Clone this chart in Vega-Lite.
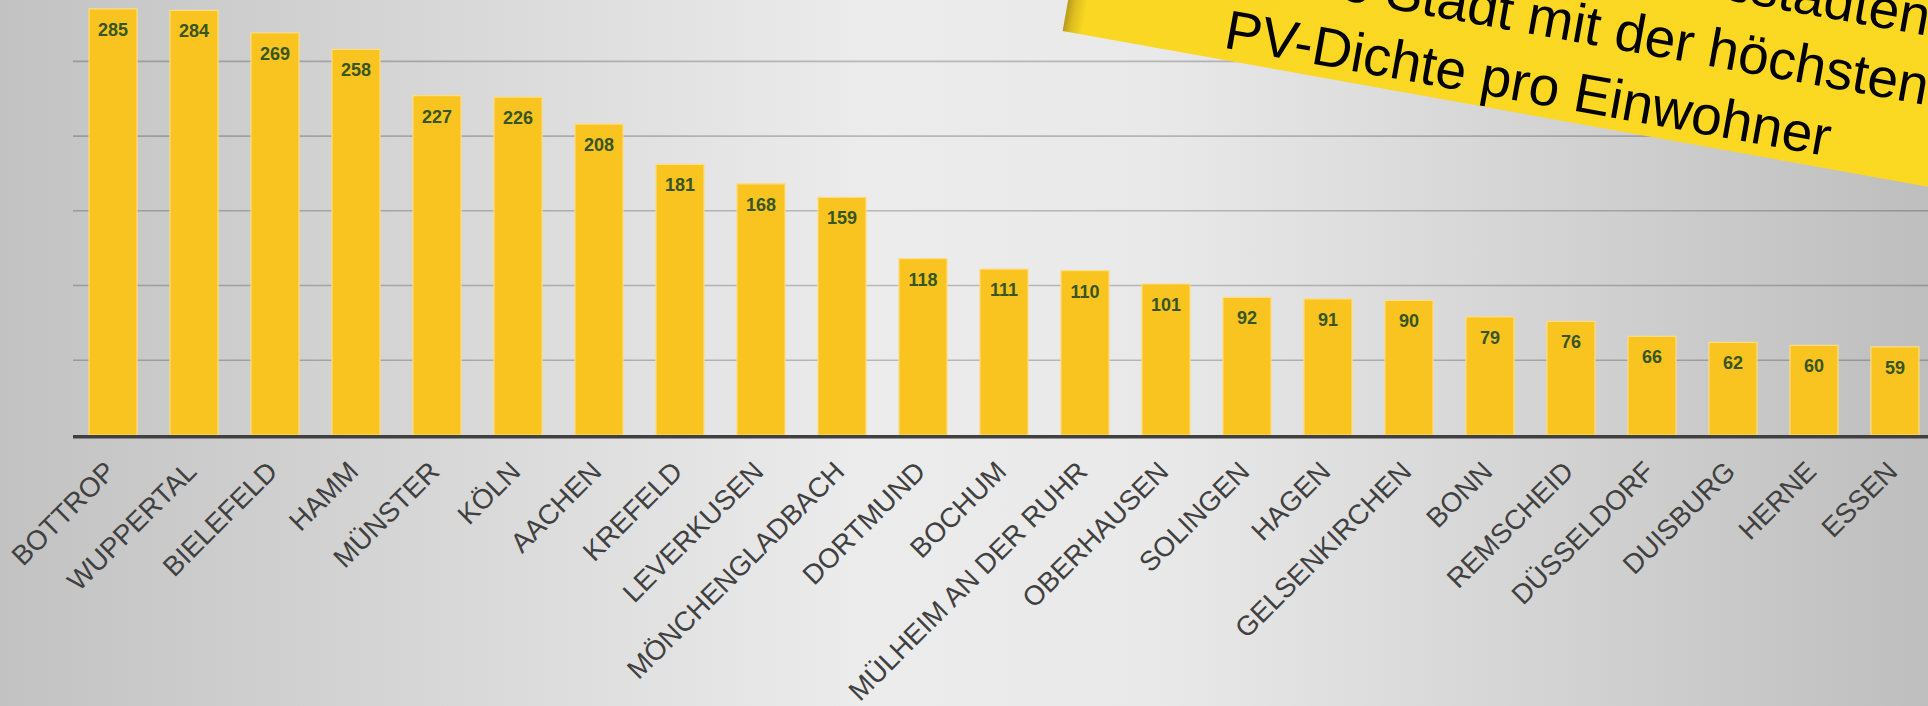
{
  "$schema": "https://vega.github.io/schema/vega-lite/v6.json",
  "width": 1928,
  "height": 706,
  "autosize": {"type": "none"},
  "padding": 0,
  "background": "#d6d6d6",
  "view": {
    "stroke": null,
    "fill": {
      "gradient": "linear", "x1": 0, "y1": 0, "x2": 1, "y2": 0,
      "stops": [
        {"offset": 0, "color": "#c2c2c2"},
        {"offset": 0.45, "color": "#ececec"},
        {"offset": 0.6, "color": "#e9e9e9"},
        {"offset": 1, "color": "#bebebe"}
      ]
    }
  },
  "datasets": {
    "cities": [
      {"city": "BOTTROP", "value": 285},
      {"city": "WUPPERTAL", "value": 284},
      {"city": "BIELEFELD", "value": 269},
      {"city": "HAMM", "value": 258},
      {"city": "MÜNSTER", "value": 227},
      {"city": "KÖLN", "value": 226},
      {"city": "AACHEN", "value": 208},
      {"city": "KREFELD", "value": 181},
      {"city": "LEVERKUSEN", "value": 168},
      {"city": "MÖNCHENGLADBACH", "value": 159},
      {"city": "DORTMUND", "value": 118},
      {"city": "BOCHUM", "value": 111},
      {"city": "MÜLHEIM AN DER RUHR", "value": 110},
      {"city": "OBERHAUSEN", "value": 101},
      {"city": "SOLINGEN", "value": 92},
      {"city": "HAGEN", "value": 91},
      {"city": "GELSENKIRCHEN", "value": 90},
      {"city": "BONN", "value": 79},
      {"city": "REMSCHEID", "value": 76},
      {"city": "DÜSSELDORF", "value": 66},
      {"city": "DUISBURG", "value": 62},
      {"city": "HERNE", "value": 60},
      {"city": "ESSEN", "value": 59}
    ],
    "grid": [{"v": 50}, {"v": 100}, {"v": 150}, {"v": 200}, {"v": 250}]
  },
  "data": {"name": "cities"},
  "encoding": {
    "x": {
      "field": "city", "type": "nominal", "sort": null, "axis": null,
      "scale": {
        "domain": ["BOTTROP", "WUPPERTAL", "BIELEFELD", "HAMM", "MÜNSTER", "KÖLN", "AACHEN", "KREFELD", "LEVERKUSEN", "MÖNCHENGLADBACH", "DORTMUND", "BOCHUM", "MÜLHEIM AN DER RUHR", "OBERHAUSEN", "SOLINGEN", "HAGEN", "GELSENKIRCHEN", "BONN", "REMSCHEID", "DÜSSELDORF", "DUISBURG", "HERNE", "ESSEN"],
        "paddingInner": 0.407, "paddingOuter": 0.605, "align": 0.908
      }
    }
  },
  "layer": [
    {
      "data": {"name": "grid"},
      "mark": {"type": "rule", "stroke": "#000000", "strokeOpacity": 0.22, "strokeWidth": 1.7, "xOffset": -40, "x2Offset": 40},
      "encoding": {
        "x": {"datum": "BOTTROP", "type": "nominal", "axis": null},
        "x2": {"datum": "ESSEN"},
        "y": {"field": "v", "type": "quantitative", "axis": null, "scale": {"domain": [-181.3, 291], "nice": false, "zero": false}}
      }
    },
    {
      "mark": {"type": "bar", "fill": "#F9C320", "stroke": "#FCDD80", "strokeWidth": 1.2},
      "encoding": {
        "y": {"field": "value", "type": "quantitative", "axis": null}
      }
    },
    {
      "mark": {"type": "text", "dy": 22, "baseline": "middle", "align": "center", "font": "Liberation Sans", "fontWeight": "bold", "fontSize": 18, "fill": "#375623"},
      "encoding": {
        "y": {"field": "value", "type": "quantitative", "axis": null},
        "text": {"field": "value", "type": "quantitative"}
      }
    },
    {
      "mark": {"type": "text", "angle": 315, "align": "right", "baseline": "alphabetic", "xOffset": 4, "font": "Liberation Sans", "fontSize": 27.5, "fill": "#404040"},
      "encoding": {
        "y": {"datum": -25.5, "type": "quantitative", "axis": null},
        "text": {"field": "city", "type": "nominal"}
      }
    },
    {
      "data": {"values": [{}]},
      "mark": {"type": "rule", "stroke": "#404040", "strokeWidth": 3.5, "xOffset": -40, "x2Offset": 40, "yOffset": 1.7},
      "encoding": {
        "x": {"datum": "BOTTROP", "type": "nominal", "axis": null},
        "x2": {"datum": "ESSEN"},
        "y": {"datum": 0, "type": "quantitative", "axis": null}
      }
    },
    {
      "data": {"values": [{}]},
      "mark": {
        "type": "point",
        "shape": "M-0.221,0.035L9.5,0.035L9.5,-3L-0.221,-3Z",
        "size": 40000, "angle": 10.2, "filled": true, "strokeWidth": 0, "opacity": 1,
        "fill": {
          "gradient": "linear", "x1": 0, "y1": 0, "x2": 1, "y2": 0,
          "stops": [
            {"offset": 0, "color": "#b99a1c"},
            {"offset": 0.008, "color": "#dcbd1e"},
            {"offset": 0.02, "color": "#f9d722"},
            {"offset": 1, "color": "#fbd923"}
          ]
        }
      },
      "encoding": {
        "x": {"datum": "MÜLHEIM AN DER RUHR", "type": "nominal", "axis": null},
        "y": {"datum": 270, "type": "quantitative", "axis": null}
      }
    },
    {
      "data": {"values": [{"text": "Bottrop ist unter den NRW-Großstädten"}]},
      "mark": {"type": "text", "angle": 10.2, "align": "right", "baseline": "alphabetic", "dx": 829, "dy": -144.7, "font": "Liberation Sans", "fontSize": 55, "fill": "#000000"},
      "encoding": {
        "x": {"datum": "MÜLHEIM AN DER RUHR", "type": "nominal", "axis": null},
        "y": {"datum": 270, "type": "quantitative", "axis": null},
        "text": {"field": "text", "type": "nominal"}
      }
    },
    {
      "data": {"values": [{"text": "die Stadt mit der höchsten"}]},
      "mark": {"type": "text", "angle": 10.2, "align": "left", "baseline": "alphabetic", "dx": 201, "dy": -76.5, "font": "Liberation Sans", "fontSize": 55, "fill": "#000000"},
      "encoding": {
        "x": {"datum": "MÜLHEIM AN DER RUHR", "type": "nominal", "axis": null},
        "y": {"datum": 270, "type": "quantitative", "axis": null},
        "text": {"field": "text", "type": "nominal"}
      }
    },
    {
      "data": {"values": [{"text": "PV-Dichte pro Einwohner"}]},
      "mark": {"type": "text", "angle": 10.2, "align": "left", "baseline": "alphabetic", "dx": 138.2, "dy": -8.5, "font": "Liberation Sans", "fontSize": 55, "fill": "#000000"},
      "encoding": {
        "x": {"datum": "MÜLHEIM AN DER RUHR", "type": "nominal", "axis": null},
        "y": {"datum": 270, "type": "quantitative", "axis": null},
        "text": {"field": "text", "type": "nominal"}
      }
    }
  ]
}
